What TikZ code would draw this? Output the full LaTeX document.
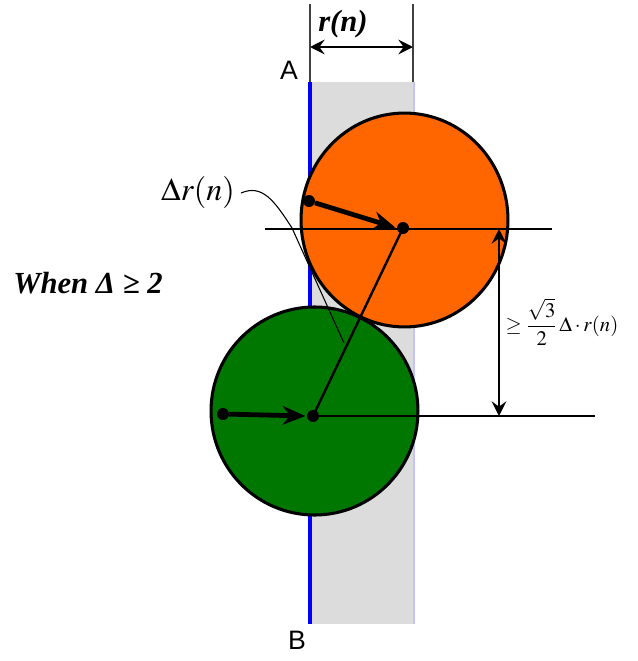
\documentclass[tikz,border=0pt]{standalone}
\usepackage{fix-cm}
\usepackage{mathptmx}
\usepackage{fontspec}
\setmainfont{Liberation Serif}
\setsansfont{Liberation Sans}
\usetikzlibrary{arrows.meta}
\definecolor{orangefill}{RGB}{255,102,0}
\definecolor{greenfill}{RGB}{0,119,0}
\definecolor{greybar}{RGB}{220,220,220}
\definecolor{paleblue}{RGB}{195,195,255}
\begin{document}
\begin{tikzpicture}[x=0.75pt,y=-0.75pt,
  thinline/.style={line width=0.9pt},
  guideline/.style={line width=0.8pt, draw=black!75},
  disc/.style={line width=2.3pt, draw=black},
  radiusarrow/.style={line width=3.6pt, -{Stealth[length=17pt,width=14pt,inset=5.5pt]}, shorten >=1pt},
  dimarrow/.style={line width=1.9pt, {Stealth[length=11pt,width=11pt,inset=4pt]}-{Stealth[length=11pt,width=11pt,inset=4pt]}},
  dot/.style={circle, fill=black, inner sep=0pt, minimum size=9pt},
  lbl/.style={inner sep=0pt}]
\useasboundingbox (0,0) rectangle (638,661);
% grey strip
\fill[greybar] (310,82) rectangle (414,624);
\coordinate (sr1) at (414,82);
\coordinate (sr2) at (414,624);
\coordinate (sl1) at (310,82);
\coordinate (sl2) at (310,624);
\draw[paleblue, line width=0.8pt] (sr1) -- (sr2);
\draw[blue, line width=2.3pt] (sl1) -- (sl2);
% top guide lines and r(n) dimension
\coordinate (t1a) at (310,4);
\coordinate (t2a) at (413,4);
\coordinate (t2b) at (413,82);
\draw[guideline] (t1a) -- (sl1);
\draw[guideline] (t2a) -- (t2b);
\coordinate (ra) at (310,47);
\coordinate (rb) at (413,47);
\draw[dimarrow] (ra) -- (rb);
\node[lbl, font=\bfseries\itshape\fontsize{23}{23}\selectfont] (rn) at (343,24) {r(n)};
\node[lbl, font=\sffamily\fontsize{20}{20}\selectfont] (A) at (289,70) {A};
\node[lbl, font=\sffamily\fontsize{20}{20}\selectfont] (B) at (297,640) {B};
% discs
\fill[greenfill] (314.5,411) ellipse [x radius=77.6pt, y radius=78pt];
\draw[disc] (314.5,411) ellipse [x radius=77.6pt, y radius=78pt];
\fill[orangefill] (404.5,220) ellipse [x radius=77.6pt, y radius=80.2pt];
\draw[disc] (404.5,220) ellipse [x radius=77.6pt, y radius=80.2pt];
% centres and points
\node[dot] (O1) at (403,228) {};
\node[dot] (O2) at (313,416) {};
\node[dot] (P1) at (309,201) {};
\node[dot] (P2) at (223,414) {};
% horizontal lines
\coordinate (h1a) at (265,229);
\coordinate (h1b) at (552,229);
\coordinate (h2b) at (595,416);
\draw[thinline] (h1a) -- (h1b);
\draw[thinline] (O2.center) -- (h2b);
% centre connector
\draw[line width=1.8pt] (O1.center) -- (O2.center);
% radius arrows
\draw[radiusarrow] (P1) -- (O1.west);
\draw[radiusarrow] (P2) -- (O2.west);
% vertical dimension
\coordinate (d1) at (499,229);
\coordinate (d2) at (499,416);
\draw[dimarrow] (d1) -- (d2);
\node[lbl, font=\fontsize{15.5}{15.5}\selectfont] (dist) at (562,322) {$\displaystyle\geq\frac{\sqrt{3}}{2}\,\Delta\cdot r(n)$};
% Delta r(n) label and leader
\node[lbl, font=\fontsize{24}{24}\selectfont] (dr) at (198,192) {$\Delta r(n)$};
\coordinate (ls) at (241,193);
\coordinate (lead) at (344,343);
\draw[line width=0.8pt] (ls) .. controls (262,184) and (274,200) .. (292,228) -- (lead);
% condition
\node[lbl, font=\bfseries\itshape\fontsize{23}{23}\selectfont] (when) at (88,283) {When Δ ≥ 2};
\end{tikzpicture}
\end{document}
